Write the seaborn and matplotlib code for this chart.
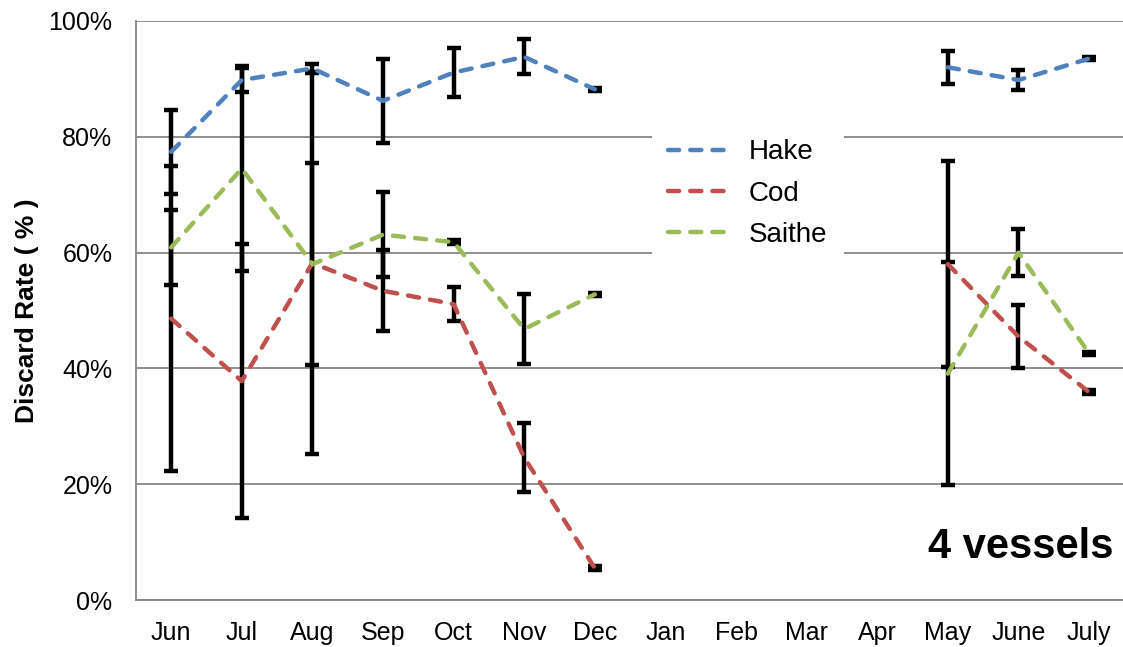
import numpy as np
import pandas as pd
import seaborn as sns
import matplotlib.pyplot as plt
from matplotlib.lines import Line2D

nan = np.nan

months = ['Jun', 'Jul', 'Aug', 'Sep', 'Oct', 'Nov', 'Dec',
          'Jan', 'Feb', 'Mar', 'Apr', 'May', 'June', 'July']
species = ['Hake', 'Cod', 'Saithe']
colors = ['#4F81BD', '#C0504D', '#9BBB59']

hake = [77.4, 89.8, 91.8, 86.2, 91.1, 93.8, 88.2, nan, nan, nan, nan, 92.0, 89.8, 93.5]
hake_err = [7.3, 2.0, 0.8, 7.2, 4.3, 3.0, 0.3, nan, nan, nan, nan, 2.8, 1.7, 0.3]
cod = [48.6, 37.8, 58.2, 53.4, 51.1, 24.6, 5.5, nan, nan, nan, nan, 58.0, 45.5, 35.9]
cod_err = [26.4, 23.7, 33.0, 7.0, 2.9, 6.0, 0.3, nan, nan, nan, nan, 17.8, 5.4, 0.3]
saithe = [60.9, 74.5, 58.0, 63.1, 61.8, 46.8, 52.8, nan, nan, nan, nan, 39.1, 60.0, 42.6]
saithe_err = [6.5, 17.7, 17.4, 7.4, 0.3, 6.1, 0.3, nan, nan, nan, nan, 19.3, 4.1, 0.3]

values = [hake, cod, saithe]
errors = [hake_err, cod_err, saithe_err]

# long table, one segment per fishing season so the gap stays empty
rows = []
for name, vals in zip(species, values):
    for i, v in enumerate(vals):
        rows.append({'pos': i, 'value': v, 'species': name, 'segment': 0 if i < 7 else 1})
df = pd.DataFrame(rows).dropna()

sns.set_style('white')
plt.rcParams['font.family'] = ['Liberation Sans', 'DejaVu Sans']
plt.rcParams['text.color'] = 'black'
plt.rcParams['axes.labelcolor'] = 'black'

fig = plt.figure(figsize=(11.23, 6.47), dpi=100)
ax = fig.add_axes([0.121, 0.0726, 0.879, 0.895])

x = np.arange(len(months))
for vals, errs in zip(values, errors):
    ax.errorbar(x, vals, yerr=errs, fmt='none', ecolor='black',
                elinewidth=3.2, capsize=5, capthick=3.2, zorder=2)

dash = (0, (2.5, 2.5))
sns.lineplot(data=df, x='pos', y='value', hue='species', hue_order=species,
             palette=colors, units='segment', estimator=None, legend=False,
             linewidth=3.2, linestyle=dash, dash_capstyle='round',
             ax=ax, zorder=3)

ax.set_xlim(-0.5, 13.48)
ax.set_ylim(0, 100)
ax.set_xticks(x)
ax.set_xticklabels(months)
ax.set_yticks(range(0, 101, 20))
ax.set_yticklabels([f'{v}%' for v in range(0, 101, 20)])
ax.set_xlabel('')
ax.set_ylabel('Discard Rate ( % )', fontsize=19, fontweight='bold',
              labelpad=7, color='black')

ax.yaxis.grid(True, color='#868686', linewidth=1.3)
ax.set_axisbelow(True)
for side in ['top', 'right']:
    ax.spines[side].set_visible(False)
for side in ['left', 'bottom']:
    ax.spines[side].set_color('#868686')
    ax.spines[side].set_linewidth(1.3)
ax.tick_params(axis='both', direction='out', length=5, width=1.3,
               color='#868686', labelsize=18, labelcolor='black')
ax.tick_params(axis='x', pad=10)
ax.tick_params(axis='y', pad=12)

handles = [Line2D([], [], color=c, linewidth=3.2, linestyle=dash,
                  dash_capstyle='round') for c in colors]
leg = ax.legend(handles, species, loc='center', bbox_to_anchor=(0.62, 0.702),
                fontsize=20, frameon=True, framealpha=1, edgecolor='white',
                fancybox=False, handlelength=2.3, handletextpad=0.6,
                labelspacing=0.55, borderpad=0.6)
leg.get_frame().set_linewidth(0)
for t in leg.get_texts():
    t.set_color('black')

ax.text(0.99, 0.072, '4 vessels', transform=ax.transAxes, ha='right',
        va='baseline', fontsize=30, fontweight='bold', color='black')

fig.savefig('out.png', dpi=100)
